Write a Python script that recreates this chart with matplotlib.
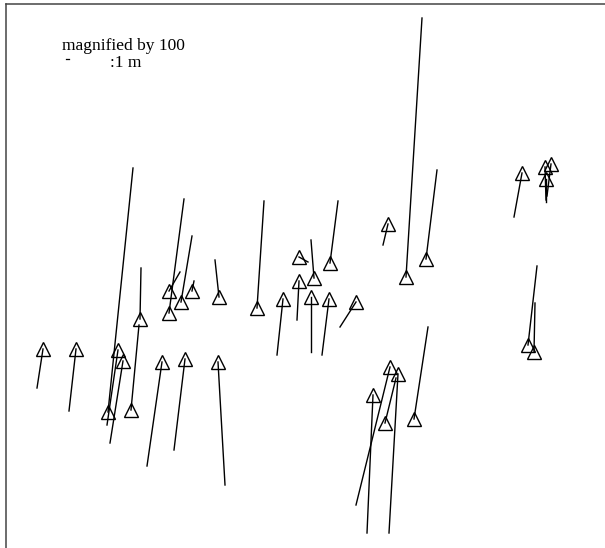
import matplotlib.pyplot as plt

# station positions (map units, y grows downward) and magnified vector tips
st_x = [43, 76, 118, 123, 108, 131, 140, 162, 185, 218,
        169, 169, 181, 192, 219, 257, 283, 299, 299, 314,
        330, 311, 329, 356, 388, 406, 426, 373, 390, 398,
        385, 414, 522, 545, 551, 546, 528, 534]
st_y = [349, 349, 350, 361, 412, 410, 319, 362, 359, 362,
        313, 291, 302, 291, 297, 308, 299, 257, 281, 278,
        263, 297, 299, 302, 224, 277, 259, 395, 367, 374,
        423, 419, 173, 167, 164, 179, 345, 352]
tip_x = [37, 69, 107, 110, 133, 139, 141, 147, 174, 225,
         184, 180, 192, 194, 215, 264, 277, 308, 297, 311,
         338, 311, 322, 340, 383, 422, 437, 367, 356, 389,
         396, 428, 514, 546, 547, 546, 537, 535]
tip_y = [388, 411, 425, 443, 168, 325, 268, 466, 450, 485,
         199, 272, 236, 281, 260, 201, 355, 262, 320, 240,
         201, 352, 355, 327, 245, 18, 170, 533, 505, 533,
         378, 327, 217, 200, 196, 202, 266, 303]

# scale bar: start point and length in map units
bar_x, bar_y, bar_len = 66, 58.5, 3

plt.rcParams['font.family'] = ['Liberation Serif', 'DejaVu Serif']

fig = plt.figure(figsize=(6.05, 5.48), dpi=100)
ax = fig.add_axes([6/605, 0, 1 - 6/605, 1 - 4/548])
ax.set_xlim(6, 605)
ax.set_ylim(548, 4)

for x0, y0, x1, y1 in zip(st_x, st_y, tip_x, tip_y):
    ax.plot([x0, x1], [y0, y1], color='black', lw=1.0)
ax.plot(st_x, st_y, '^', ms=9.5, mfc='none', mec='black', mew=1.0, ls='none')

ax.text(62, 50, 'magnified by 100', fontsize=12.5)
ax.plot([bar_x, bar_x + bar_len], [bar_y, bar_y], color='black', lw=0.9)
ax.text(110, 67, ':1 m', fontsize=12.5)

ax.set_xticks([])
ax.set_yticks([])
ax.spines['right'].set_visible(False)
ax.spines['bottom'].set_visible(False)
for s in ['left', 'top']:
    ax.spines[s].set_color('#444444')
    ax.spines[s].set_linewidth(1.1)

plt.savefig('out.png', dpi=100)
